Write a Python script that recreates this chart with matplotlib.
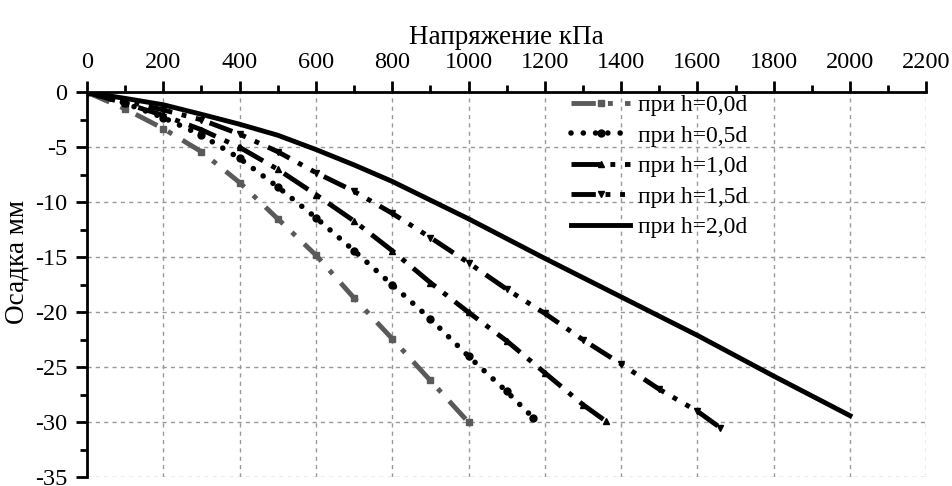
import numpy as np
import matplotlib
matplotlib.use("Agg")
import matplotlib.pyplot as plt
from matplotlib.ticker import MultipleLocator

plt.rcParams["font.family"] = ["Liberation Serif", "DejaVu Serif"]
plt.rcParams["axes.unicode_minus"] = False

# settlement curves (stress kPa -> settlement mm)
x_h00 = [0, 100, 200, 300, 400, 500, 600, 700, 800, 900, 1000]
y_h00 = [0, -1.5, -3.3, -5.4, -8.2, -11.5, -14.8, -18.7, -22.4, -26.2, -30.0]

x_h05 = [0, 100, 200, 300, 400, 500, 600, 700, 800, 900, 1000, 1100, 1170]
y_h05 = [0, -1.0, -2.3, -3.9, -6.0, -8.6, -11.4, -14.4, -17.5, -20.6, -24.0, -27.2, -29.6]

x_h10 = [0, 100, 200, 300, 400, 500, 600, 700, 800, 900, 1000, 1100, 1200, 1300, 1360]
y_h10 = [0, -1.0, -2.1, -3.4, -5.0, -7.0, -9.3, -11.7, -14.4, -17.3, -20.0, -22.6, -25.5, -28.4, -29.9]

x_h15 = [0, 100, 200, 300, 400, 500, 600, 700, 800, 900, 1000, 1100, 1200, 1300, 1400, 1500, 1600, 1660]
y_h15 = [0, -0.8, -1.6, -2.5, -3.8, -5.4, -7.3, -9.0, -11.0, -13.2, -15.5, -17.9, -20.1, -22.5, -24.7, -27.0, -29.0, -30.5]

x_h20 = [0, 100, 200, 300, 400, 500, 600, 700, 800, 900, 1000, 1200, 1400, 1600, 1800, 2000]
y_h20 = [0, -0.55, -1.13, -2.0, -2.9, -3.9, -5.2, -6.6, -8.1, -9.8, -11.5, -15.1, -18.6, -22.1, -25.8, -29.4]

labels = ["при h=0,0d", "при h=0,5d", "при h=1,0d", "при h=1,5d", "при h=2,0d"]

fig = plt.figure(figsize=(9.52, 4.86), dpi=100)
ax = fig.add_axes([0.0914, 0.018, 0.8816, 0.792])

ax.plot(x_h00, y_h00, color="#5a5a5a", lw=3.5, linestyle=(0, (5, 2.5, 1, 2.5)),
        marker="s", ms=4, label=labels[0])
ax.plot(x_h05, y_h05, color="black", lw=4, linestyle=(0, (0.01, 2.2)),
        dash_capstyle="round", marker="o", ms=5, label=labels[1])
ax.plot(x_h10, y_h10, color="black", lw=3.5, linestyle=(0, (6, 2, 1, 2)),
        marker="^", ms=5, label=labels[2])
ax.plot(x_h15, y_h15, color="black", lw=3.5, linestyle=(0, (5, 2, 1, 2, 1, 2)),
        marker="v", ms=5, label=labels[3])
ax.plot(x_h20, y_h20, color="black", lw=3.5, linestyle="-", label=labels[4])

ax.set_xlim(0, 2200)
ax.set_ylim(-35, 0)
ax.xaxis.set_major_locator(MultipleLocator(200))
ax.xaxis.set_minor_locator(MultipleLocator(100))
ax.yaxis.set_major_locator(MultipleLocator(5))
ax.yaxis.set_minor_locator(MultipleLocator(2.5))

ax.xaxis.tick_top()
ax.xaxis.set_label_position("top")
for s in ("right", "bottom"):
    ax.spines[s].set_visible(False)
for s in ("left", "top"):
    ax.spines[s].set_linewidth(2)

ax.tick_params(which="major", direction="out", length=8, width=2, labelsize=17.5, pad=6)
ax.tick_params(which="minor", direction="out", length=5, width=2)

ax.grid(True, which="major", color="#999999", linestyle=(0, (3, 3)), linewidth=1)
ax.set_axisbelow(True)

ax.set_xlabel("Напряжение кПа", fontsize=19.5, labelpad=6)
ax.set_ylabel("Осадка мм", fontsize=19.5)
ax.yaxis.set_label_coords(-0.068, 0.56)

ax.legend(loc="upper left", bbox_to_anchor=(0.574, 1.0), frameon=False,
          fontsize=17, handlelength=2.5, handletextpad=0.35, labelspacing=0.38,
          borderaxespad=0, borderpad=0.1, numpoints=1)

fig.savefig("out.png", dpi=100)
